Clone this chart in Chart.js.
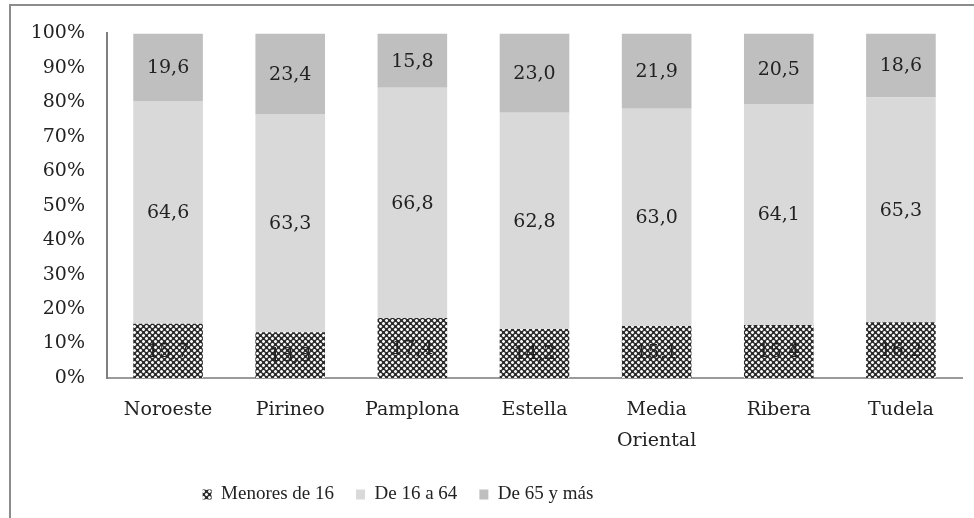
<!DOCTYPE html>
<html lang="es">
<head>
<meta charset="utf-8">
<title>Población por grupos de edad y zona</title>
<script src="https://cdn.jsdelivr.net/npm/chart.js@4.4.1/dist/chart.umd.min.js"></script>
<style>
  html, body { margin: 0; padding: 0; background: #ffffff; }
  #wrap { position: relative; width: 974px; height: 518px; }
</style>
</head>
<body>
<div id="wrap"><canvas id="chart" width="974" height="518"></canvas></div>
<script>
// Zonas
const zonas = ['Noroeste', 'Pirineo', 'Pamplona', 'Estella', ['Media', 'Oriental'], 'Ribera', 'Tudela'];
// Porcentaje de población por grupo de edad
const menores16 = [15.7, 13.3, 17.4, 14.2, 15.1, 15.4, 16.2];
const de16a64   = [64.6, 63.3, 66.8, 62.8, 63.0, 64.1, 65.3];
const de65ymas  = [19.6, 23.4, 15.8, 23.0, 21.9, 20.5, 18.6];
const seriesNames = ['Menores de 16', 'De 16 a 64', 'De 65 y más'];
const yTicks = [0, 10, 20, 30, 40, 50, 60, 70, 80, 90, 100];

const serif = '"DejaVu Serif", "Liberation Serif", serif';

// Dotted cross-hatch fill for the youngest group
function hatchPattern() {
  const c = document.createElement('canvas');
  c.width = 6; c.height = 6;
  const g = c.getContext('2d');
  g.fillStyle = '#2c2c2c';
  g.fillRect(0, 0, 6, 6);
  const dot = (x0, y0) => {
    for (let dy = 0; dy < 3; dy++) {
      for (let dx = 0; dx < 3; dx++) {
        const corner = (dx !== 1 && dy !== 1);
        g.fillStyle = corner ? '#909090' : '#f4f4f4';
        g.fillRect((x0 + dx) % 6, (y0 + dy) % 6, 1, 1);
      }
    }
  };
  dot(1, 1);
  dot(4, 4);
  return g.createPattern(c, 'repeat');
}

// 100% stacked: each column scaled to its own total
const raw = [menores16, de16a64, de65ymas];
const totals = zonas.map((_, i) => raw.reduce((s, arr) => s + arr[i], 0));
const share = arr => arr.map((v, i) => v / totals[i] * 100);

const fills = [hatchPattern(), '#d9d9d9', '#bfbfbf'];

// Frame around the whole graphic
const framePlugin = {
  id: 'frame',
  beforeDraw(chart) {
    const ctx = chart.ctx;
    ctx.save();
    ctx.strokeStyle = '#8c8c8c';
    ctx.lineWidth = 2;
    ctx.strokeRect(10, 5, 1000, 600);
    ctx.restore();
  }
};

// Value written in the middle of each segment
const valueLabels = {
  id: 'valueLabels',
  afterDatasetsDraw(chart) {
    const ctx = chart.ctx;
    ctx.save();
    ctx.font = '19px ' + serif;
    ctx.fillStyle = '#222222';
    ctx.textAlign = 'center';
    ctx.textBaseline = 'middle';
    chart.data.datasets.forEach((ds, di) => {
      chart.getDatasetMeta(di).data.forEach((bar, i) => {
        const txt = ds.rawValues[i].toFixed(1).replace('.', ',');
        ctx.fillText(txt, bar.x, (bar.y + bar.base) / 2 + 1);
      });
    });
    ctx.restore();
  }
};

// Legend sits left of centre
const legendShift = {
  id: 'legendShift',
  afterLayout(chart) {
    const lg = chart.legend;
    lg.left -= 88;
    lg.right -= 88;
  }
};

new Chart(document.getElementById('chart'), {
  type: 'bar',
  data: {
    labels: zonas,
    datasets: raw.map((arr, k) => ({
      label: seriesNames[k],
      data: share(arr),
      rawValues: arr,
      backgroundColor: fills[k],
      borderWidth: 0,
      categoryPercentage: 1,
      barPercentage: 0.57
    }))
  },
  options: {
    responsive: false,
    animation: false,
    devicePixelRatio: 1,
    layout: { padding: { left: 10, right: 12, top: 32, bottom: 4 } },
    plugins: {
      tooltip: { enabled: false },
      legend: {
        position: 'bottom',
        labels: {
          boxWidth: 9,
          boxHeight: 10,
          padding: 22,
          color: '#222222',
          font: { family: '"Liberation Serif", serif', size: 19 }
        }
      }
    },
    scales: {
      x: {
        stacked: true,
        grid: { display: false, drawTicks: false },
        border: { display: true, color: '#9a9a9a', width: 2 },
        ticks: {
          color: '#222222',
          padding: 17,
          maxRotation: 0,
          autoSkip: false,
          font: { family: serif, size: 19, lineHeight: 1.6 }
        },
        afterFit(scale) { scale.height = 85; }
      },
      y: {
        stacked: true,
        min: 0,
        max: 100,
        grid: { display: false, drawTicks: false },
        border: { display: true, color: '#7f7f7f', width: 2 },
        afterBuildTicks(scale) { scale.ticks = yTicks.map(v => ({ value: v })); },
        ticks: {
          color: '#222222',
          padding: 22,
          font: { family: serif, size: 19 },
          callback: v => v + '%'
        },
        afterFit(scale) { scale.width = 97; }
      }
    }
  },
  plugins: [framePlugin, valueLabels, legendShift]
});
</script>
</body>
</html>
